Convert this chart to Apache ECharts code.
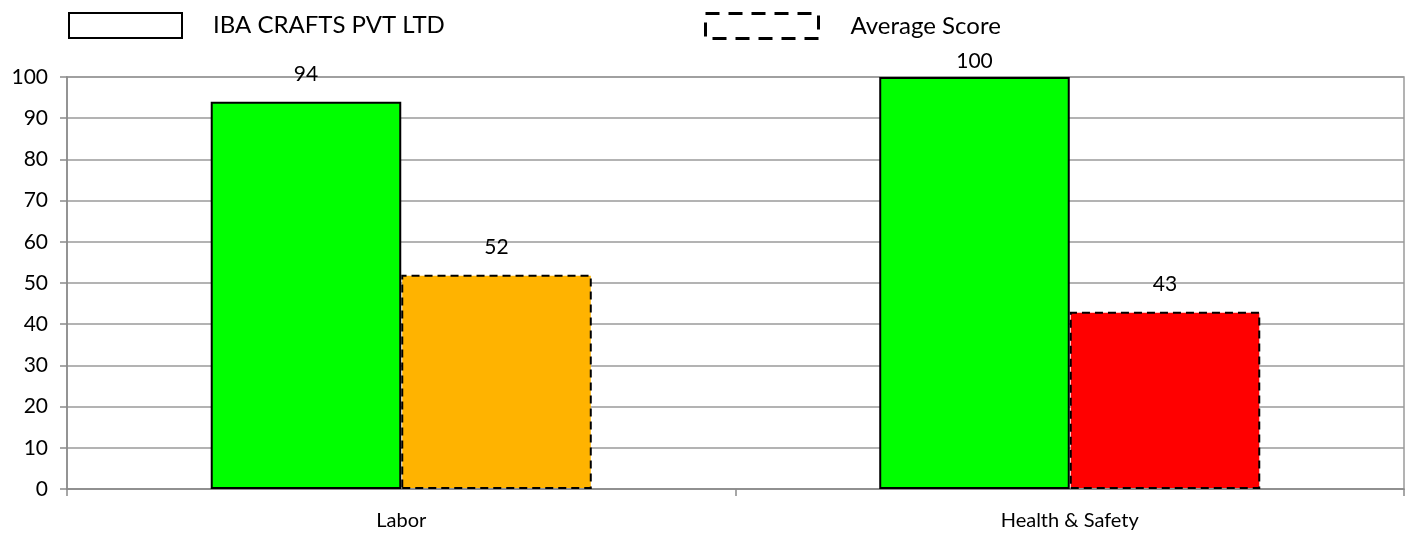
<!DOCTYPE html>
<html><head><meta charset="utf-8">
<script src="https://cdn.jsdelivr.net/npm/echarts@6/dist/echarts.min.js"></script>
<style>html,body{margin:0;padding:0;background:#fff}#c{width:1410px;height:533px}</style>
</head><body><div id="c"></div>
<script>
const categories = ['Labor', 'Health & Safety'];
const companyName = 'IBA CRAFTS PVT LTD';
const averageName = 'Average Score';
const companyValues = [94, 100];
const averageValues = [52, 43];
const companyColors = ['#00FF00', '#00FF00'];
const averageColors = ['#FFB300', '#FF0000'];
const yTicks = [0, 10, 20, 30, 40, 50, 60, 70, 80, 90, 100];

const FONT = 'Lato';
const chart = echarts.init(document.getElementById('c'));
function lbl(v){ return {show:true, position:'top', distance: v >= 100 ? 5 : 17, color:'#000', fontFamily:FONT, fontSize:21}; }
chart.setOption({
  animation:false,
  legend:[
    {left:63, top:7, icon:'rect', itemWidth:113, itemHeight:25,
     textStyle:{fontFamily:FONT, fontSize:24, color:'#000', padding:[0,0,0,26]},
     data:[{name:companyName, itemStyle:{color:'#fff', borderColor:'#000', borderWidth:2, borderType:'solid'}}]},
    {left:699, top:7, icon:'rect', itemWidth:113, itemHeight:25,
     textStyle:{fontFamily:FONT, fontSize:24, color:'#000', padding:[0,0,0,27]},
     data:[{name:averageName, itemStyle:{color:'#fff', borderColor:'#000', borderWidth:3, borderType:[14,9]}}]}
  ],
  grid:{left:67, right:6, top:77, bottom:44, show:true, borderColor:'#9a9a9a', borderWidth:1.5},
  xAxis:{type:'category', data:categories,
    axisLine:{lineStyle:{color:'#8a8a8a', width:1.5}},
    axisTick:{show:true, length:7, lineStyle:{color:'#8a8a8a', width:1.5}},
    axisLabel:{color:'#000', fontFamily:FONT, fontSize:20, margin:22}},
  yAxis:{type:'value', min:yTicks[0], max:yTicks[yTicks.length-1], interval:10,
    axisLine:{show:true, lineStyle:{color:'#8a8a8a', width:1.5}},
    axisTick:{show:true, length:7, lineStyle:{color:'#8a8a8a', width:1.5}},
    splitLine:{lineStyle:{color:'#9a9a9a', width:1.5}},
    axisLabel:{color:'#000', fontFamily:FONT, fontSize:21, margin:19}},
  series:[
    {name:companyName, type:'bar', barGap:'0%', barCategoryGap:'43%',
     itemStyle:{color:'#fff', borderColor:'#000', borderWidth:2},
     data:companyValues.map((v,i)=>({value:v, itemStyle:{color:companyColors[i]}, label:lbl(v)}))},
    {name:averageName, type:'bar', barGap:'0%', barCategoryGap:'43%',
     itemStyle:{color:'#fff', borderColor:'#000', borderWidth:2, borderType:[8,5]},
     data:averageValues.map((v,i)=>({value:v, itemStyle:{color:averageColors[i]}, label:lbl(v)}))}
  ]
});
</script></body></html>
